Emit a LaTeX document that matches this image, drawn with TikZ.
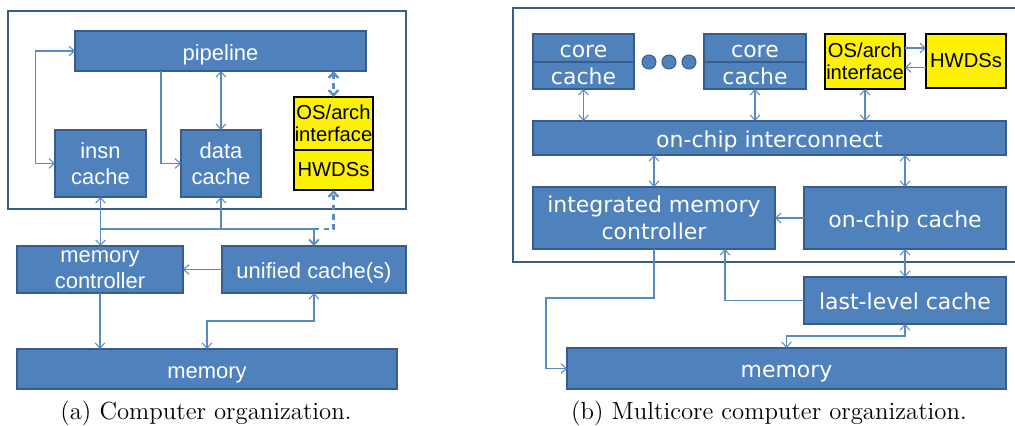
\documentclass[tikz,border=0pt]{standalone}
\usepackage{xcolor}
\usepackage{fontspec}
\newfontfamily\arialfont{Liberation Sans}
\newfontfamily\dejavufont{DejaVu Sans}
\usepackage{tikz}
\usetikzlibrary{arrows.meta}

\definecolor{boxblue}{HTML}{4F81BD}
\definecolor{boxedge}{HTML}{385D8A}
\definecolor{linkblue}{HTML}{5A8AC6}

\begin{document}
\begin{tikzpicture}[
            x=0.02cm, y=-0.02cm,
            box/.style={
                    draw=boxedge,
                    fill=boxblue,
                    line width=0.9pt,
                    text=white,
                    inner sep=0pt,
                    outer sep=0pt,
                    align=center
                },
            leftbox/.style={
                    box,
                    font=\arialfont\fontsize{12.5}{14.5}\selectfont
                },
            rightbox/.style={
                    box,
                    font=\dejavufont\fontsize{12.5}{15.3}\selectfont
                },
            oneline/.style={
                    text height=12.5pt,
                    text depth=2.25pt
                },
            twoline/.style={
                    execute at begin node={\rule{0pt}{10pt}}
                },
            osbox/.style={
                    draw=black,
                    fill=yellow,
                    line width=0.6pt,
                    inner sep=0pt,
                    outer sep=0pt,
                    align=center,
                    font=\arialfont\fontsize{11.5}{12.8}\selectfont
                },
            outerframe/.style={
                    draw=boxedge,
                    line width=1.2pt
                },
            link/.style={
                    draw=linkblue,
                    line width=0.6pt
                },
            arrow/.style={
                    link,
                    -{Straight Barb[length=3pt,width=5.5pt]}
                },
            biarrow/.style={
                    link,
                    {Straight Barb[length=3pt,width=5.5pt]}-{Straight Barb[length=3pt,width=5.5pt]}
                },
            dashlink/.style={
                    line width=1.3pt,
                    dash pattern=on 3pt off 2.5pt
                },
            captext/.style={
                    inner sep=0pt,
                    font=\fontsize{14.1}{16}\selectfont
                }
        ]

        \useasboundingbox (0,0) rectangle (1015,426);

        % (a) computer organization
        \draw[outerframe] (8,11) rectangle (406,209);


        \node[leftbox, oneline, minimum width=5.82cm, minimum height=0.8cm] (pipeline) at (220.5,51)
        {pipeline};


        \node[leftbox, twoline, minimum width=1.82cm, minimum height=1.34cm] (insn) at (100.5,163.5)
        {insn\\cache};


        \node[leftbox, twoline, minimum width=1.6cm, minimum height=1.34cm] (data) at (221,163.5)
        {data\\cache};


        \node[osbox, minimum width=1.58cm, minimum height=1.06cm] (osif) at (333.5,123.5)
        {OS/arch\\interface};


        \node[osbox, minimum width=1.58cm, minimum height=0.8cm] (hwds) at (333.5,170)
        {HWDSs};


        \node[leftbox, twoline, minimum width=3.32cm, minimum height=0.94cm] (memctl) at (100,269.5)
        {memory\\controller};


        \node[leftbox, oneline, minimum width=3.68cm, minimum height=0.94cm] (unified) at (314,269.5)
        {unified cache(s)};


        \node[leftbox, oneline, minimum width=7.6cm, minimum height=0.8cm] (memory) at (207,369)
        {memory};


        \coordinate (busL) at (100.5,229);
        \coordinate (busR) at (314,229);


        \draw[biarrow](pipeline.west) -- ++(-40,0) |- (insn.west);
        \draw[arrow]([xshift=-1.19cm]pipeline.south) |- (data.west);
        \draw[biarrow](pipeline.south -| data.north) -- (data.north);
        \draw[biarrow, dashlink](pipeline.south -| osif.north) -- (osif.north);
        \draw[biarrow](insn.south) -- (insn.south |- memctl.north);
        \draw[link](busL) -- (busR);
        \draw[arrow](data.south |- busL) -- (data.south);
        \draw[arrow, line width=1pt](busR) -- (unified.north);
        \draw[arrow, dashlink](busR) -| (hwds.south);
        \draw[arrow](unified.west) -- (memctl.east);
        \draw[arrow](memctl.south) -- (memctl.south |- memory.north);
        \draw[biarrow](unified.south) -- ++(0,28) -| (memory.north);


        \node[captext] (capa) at (206,413)
        {(a) Computer organization.};


        % (b) multicore computer organization
        \draw[outerframe] (1016,8) -- (513,8) -- (513,262) -- (1016,262);


        \node[rightbox, oneline, minimum width=2.02cm, minimum height=0.56cm] (coreA) at (583.5,48)
        {core};
        \node[rightbox, oneline, minimum width=2.02cm, minimum height=0.54cm] (cacheA) at (583.5,75.5)
        {cache};


        \foreach \x in {649,669,689}
        \draw[draw=boxedge, fill=boxblue, line width=0.6pt] (\x,62) circle (0.14cm);


        \node[rightbox, oneline, minimum width=2.04cm, minimum height=0.56cm] (coreB) at (755,48)
        {core};
        \node[rightbox, oneline, minimum width=2.04cm, minimum height=0.54cm] (cacheB) at (755,75.5)
        {cache};


        \node[osbox, minimum width=1.6cm, minimum height=1.1cm] (osifR) at (865,61.5)
        {OS/arch\\interface};


        \node[osbox, minimum width=1.6cm, minimum height=1.08cm] (hwdsR) at (966,61)
        {HWDSs};


        \node[rightbox, oneline, minimum width=9.46cm, minimum height=0.68cm] (noc) at (769.5,138)
        {on-chip interconnect};


        \node[rightbox, twoline, minimum width=4.84cm, minimum height=1.24cm] (imc) at (654,218)
        {integrated memory\\controller};


        \node[rightbox, oneline, minimum width=4.04cm, minimum height=1.24cm] (occ) at (905,218)
        {on-chip cache};


        \node[rightbox, oneline, minimum width=4.04cm, minimum height=0.94cm] (llc) at (905,300.5)
        {last-level cache};


        \node[rightbox, oneline, minimum width=8.78cm, minimum height=0.82cm] (memR) at (786.5,368.5)
        {memory};


        \draw[arrow]([yshift=0.27cm]osifR.east) -- ([yshift=0.27cm]osifR.east -| hwdsR.west);
        \draw[arrow]([yshift=-0.13cm]hwdsR.west) -- ([yshift=-0.13cm]hwdsR.west -| osifR.east);
        \draw[biarrow](cacheA.south) -- (cacheA.south |- noc.north);
        \draw[biarrow](cacheB.south) -- (cacheB.south |- noc.north);
        \draw[biarrow](osifR.south) -- (osifR.south |- noc.north);
        \draw[biarrow](imc.north |- noc.south) -- (imc.north);
        \draw[biarrow](occ.north |- noc.south) -- (occ.north);
        \draw[arrow](occ.west) -- (imc.east);
        \draw[biarrow](occ.south) -- (llc.north);
        \draw[arrow](llc.west) -| ([xshift=1.42cm]imc.south);
        \draw[arrow](imc.south) -- ++(0,49) -- ++(-108,0) |- (memR.west);
        \draw[biarrow](llc.south) -- ++(0,12) -| (memR.north);


        \node[captext] (capb) at (769,413)
        {(b) Multicore computer organization.};


    \end{tikzpicture}
\end{document}
